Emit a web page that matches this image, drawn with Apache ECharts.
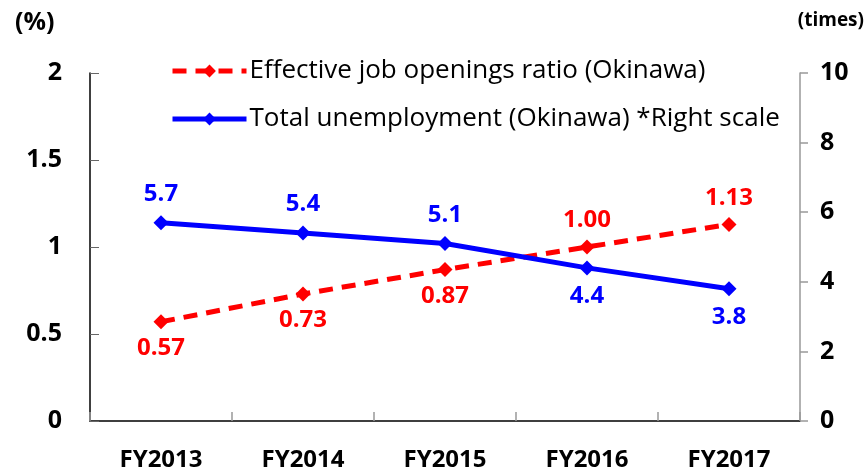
<!DOCTYPE html>
<html>
<head>
<meta charset="utf-8">
<script src="https://cdn.jsdelivr.net/npm/echarts@6/dist/echarts.min.js"></script>
<style>
  html, body { margin: 0; padding: 0; background: #fff; }
  #chart { width: 867px; height: 468px; }
</style>
</head>
<body>
<div id="chart"></div>
<script>
const categories = ['FY2013', 'FY2014', 'FY2015', 'FY2016', 'FY2017'];
const jobRatio = [0.57, 0.73, 0.87, 1.00, 1.13];
const unemployment = [5.7, 5.4, 5.1, 4.4, 3.8];
const leftTicks = { min: 0, max: 2, interval: 0.5 };
const rightTicks = { min: 0, max: 10, interval: 2 };

const FONT = 'Open Sans';
const chart = echarts.init(document.getElementById('chart'));

// red labels sit under the first three points, blue ones under the last two
const redData = jobRatio.map((v, i) => ({
    value: v,
    label: { position: i < 3 ? 'bottom' : 'top' }
}));
const blueData = unemployment.map((v, i) => ({
    value: v,
    label: { position: i < 3 ? 'top' : 'bottom' }
}));

const option = {
    animation: false,
    textStyle: { fontFamily: FONT },
    grid: { left: 90, right: 67, top: 73, bottom: 47, outerBoundsMode: 'none', containLabel: false },
    legend: {
        left: 165,
        top: 53,
        orient: 'vertical',
        itemGap: 22,
        itemWidth: 74,
        itemHeight: 16,
        lineStyle: { width: 5 },
        textStyle: { fontFamily: FONT, fontSize: 26, color: '#000', padding: [0, 0, 0, -2] },
        data: ['Effective job openings ratio (Okinawa)', 'Total unemployment (Okinawa) *Right scale']
    },
    xAxis: {
        type: 'category',
        data: categories,
        axisLine: { lineStyle: { color: '#000', width: 1.5 } },
        axisTick: { show: true, inside: true, length: 9, lineStyle: { color: '#999', width: 1.5 } },
        axisLabel: { color: '#000', fontWeight: 'bold', fontSize: 24, margin: 27, fontFamily: FONT }
    },
    yAxis: [{
        type: 'value',
        min: leftTicks.min, max: leftTicks.max, interval: leftTicks.interval,
        splitLine: { show: false },
        axisLine: { show: true, lineStyle: { color: '#000', width: 1.5 } },
        axisTick: { show: true, inside: true, length: 9, lineStyle: { color: '#666' } },
        axisLabel: { color: '#000', fontWeight: 'bold', fontSize: 25, margin: 28, fontFamily: FONT }
    }, {
        type: 'value',
        min: rightTicks.min, max: rightTicks.max, interval: rightTicks.interval,
        splitLine: { show: false },
        axisLine: { show: true, lineStyle: { color: '#999', width: 1.5 } },
        axisTick: { show: true, length: 8, lineStyle: { color: '#999', width: 1.5 } },
        axisLabel: { color: '#000', fontWeight: 'bold', fontSize: 25, margin: 20, fontFamily: FONT }
    }],
    graphic: [
        { type: 'text', left: 15, top: 10, style: { text: '(%)', font: 'bold 25px "' + FONT + '"', fill: '#000' } },
        { type: 'text', right: 3, top: 11, style: { text: '(times)', font: 'bold 19px "' + FONT + '"', fill: '#000' } }
    ],
    series: [{
        name: 'Effective job openings ratio (Okinawa)',
        type: 'line',
        yAxisIndex: 0,
        data: redData,
        symbol: 'diamond',
        symbolSize: 15,
        itemStyle: { color: '#ff0000' },
        lineStyle: { color: '#ff0000', width: 5, type: [14, 9] },
        label: {
            show: true,
            color: '#ff0000',
            fontWeight: 'bold',
            fontSize: 24,
            distance: 7,
            fontFamily: FONT,
            formatter: p => p.value.toFixed(2)
        }
    }, {
        name: 'Total unemployment (Okinawa) *Right scale',
        type: 'line',
        yAxisIndex: 1,
        data: blueData,
        symbol: 'diamond',
        symbolSize: 15,
        itemStyle: { color: '#0000ff' },
        lineStyle: { color: '#0000ff', width: 5 },
        label: {
            show: true,
            color: '#0000ff',
            fontWeight: 'bold',
            fontSize: 24,
            distance: 9,
            fontFamily: FONT,
            formatter: p => p.value.toFixed(1)
        }
    }]
};

chart.setOption(option);
</script>
</body>
</html>
